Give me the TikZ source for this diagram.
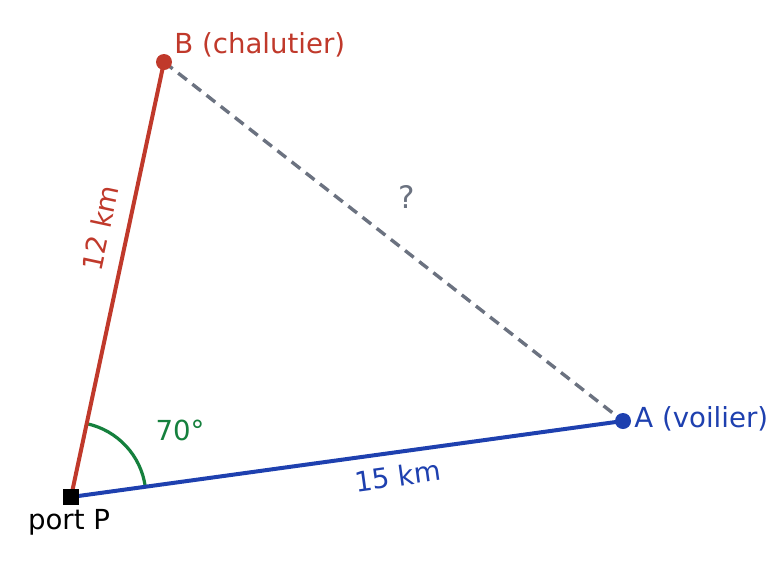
\documentclass[tikz,border=0pt]{standalone}
\usepackage{fontspec}
\setmainfont{DejaVu Sans}
\usetikzlibrary{calc}
\definecolor{cred}{HTML}{C0392B}
\definecolor{cblue}{HTML}{1E40AF}
\definecolor{cgreen}{HTML}{15803D}
\definecolor{cgray}{HTML}{6B7280}
\begin{document}
\begin{tikzpicture}[x=0.5pt,y=-0.5pt,
  lbl/.style={font=\fontsize{13.8pt}{16pt}\selectfont, inner sep=0pt},
  dotA/.style={circle, fill=#1, inner sep=0pt, minimum size=8pt},
  sideline/.style={line width=2pt, line cap=round},
]
\useasboundingbox (0,0) rectangle (783,569);
\coordinate (P) at (71,497);
\coordinate (B) at (164,62);
\coordinate (A) at (623,421);
% angle arc
\draw[cgreen, line width=1.6pt] ($(P)+(-7.84:75)$) arc[start angle=-7.84, end angle=-77.9, radius=75];
% sides
\draw[cgray, line width=1.7pt, dash pattern=on 5.5pt off 3.5pt] (B) -- (A);
\draw[cred, sideline] (P) -- (B);
\draw[cblue, sideline] (P) -- (A);
% points
\node[dotA=cred] (Bd) at (B) {};
\node[dotA=cblue] (Ad) at (A) {};
\node[fill=black, inner sep=0pt, minimum size=8pt] (Pd) at (P) {};
% labels
\node[lbl, text=cred, anchor=west] (Bl) at (174,45) {B (chalutier)};
\node[lbl, text=cblue, anchor=west] (Al) at (634,419) {A (voilier)};
\node[lbl, text=black] (Pl) at (69,522) {port P};
\node[lbl, text=cgreen] (ang) at (180,430) {70°};
\node[lbl, text=cgray, font=\fontsize{15.5pt}{18pt}\selectfont] (q) at (407,197) {?};
\node[lbl, text=cred, rotate=77.9] (l12) at (100,228) {12 km};
\node[lbl, text=cblue, rotate=7.84] (l15) at (398,476) {15 km};
\end{tikzpicture}
\end{document}
